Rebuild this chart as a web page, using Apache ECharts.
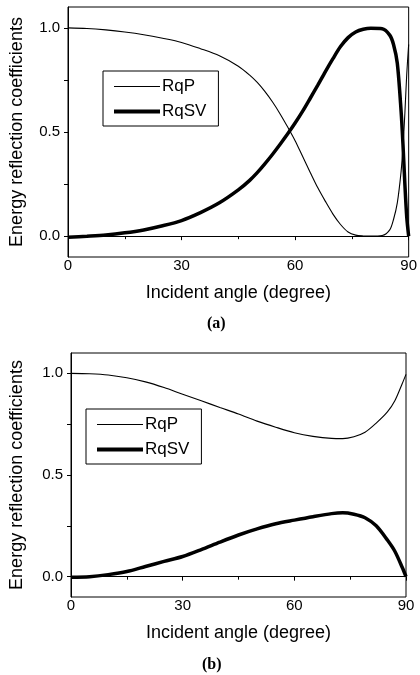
<!DOCTYPE html>
<html lang="en">
<head>
    <meta charset="UTF-8">
    <title>Energy reflection coefficients</title>
    <style>
        html, body { margin: 0; padding: 0; background: #fff; }
        #main { width: 420px; height: 675px; }
    </style>
</head>
<body>
    <div id="main"></div>
    <script src="https://cdn.jsdelivr.net/npm/echarts@6/dist/echarts.min.js"></script>
    <script>
        // panel (a)
        var anglesA = [0, 5, 10, 15, 20, 25, 30, 35, 40, 45, 48, 50, 52, 54, 56, 58, 60, 62, 64, 66, 68, 70, 72, 74, 76, 78, 80, 83, 85, 86, 87, 88, 88.5, 89, 89.5, 90];
        var rqpA = [1.0, 0.997, 0.99, 0.98, 0.967, 0.95, 0.93, 0.90, 0.866, 0.816, 0.773, 0.738, 0.695, 0.645, 0.588, 0.525, 0.458, 0.382, 0.306, 0.232, 0.167, 0.106, 0.056, 0.02, 0.005, 0.001, 0.0, 0.003, 0.03, 0.08, 0.16, 0.31, 0.43, 0.59, 0.78, 0.92];
        var rqsvA = [-0.005, 0.0, 0.006, 0.016, 0.03, 0.05, 0.075, 0.113, 0.16, 0.222, 0.268, 0.305, 0.347, 0.392, 0.44, 0.49, 0.543, 0.60, 0.662, 0.725, 0.79, 0.852, 0.91, 0.953, 0.98, 0.993, 0.998, 0.996, 0.965, 0.92, 0.83, 0.60, 0.44, 0.25, 0.09, 0.0];
        // panel (b)
        var anglesB = [0, 5, 10, 15, 20, 25, 30, 35, 40, 45, 50, 55, 60, 65, 70, 73, 76, 79, 82, 85, 87, 89, 90];
        var rqpB = [1.0, 0.998, 0.992, 0.978, 0.958, 0.93, 0.897, 0.865, 0.832, 0.80, 0.765, 0.735, 0.708, 0.69, 0.68, 0.679, 0.688, 0.71, 0.755, 0.81, 0.865, 0.95, 0.995];
        var rqsvB = [-0.003, 0.0, 0.01, 0.025, 0.05, 0.075, 0.099, 0.133, 0.17, 0.205, 0.235, 0.26, 0.278, 0.295, 0.31, 0.314, 0.307, 0.29, 0.25, 0.18, 0.125, 0.045, 0.0];

        var xTicks = [0, 30, 60, 90];
        var yLabels = [0, 0.5, 1.0];
        var yTicks = [0, 0.25, 0.5, 0.75, 1.0];

        var font = 'Liberation Sans, Arial, sans-serif';
        var thin = 1.1, thick = 3.5;

        function pairs(xs, ys) {
            return xs.map(function (x, i) { return [x, ys[i]]; });
        }

        function xAxisFor(idx, gap) {
            return {
                type: 'value', gridIndex: idx, min: xTicks[0], max: xTicks[xTicks.length - 1], interval: 30,
                name: 'Incident angle (degree)', nameLocation: 'middle', nameGap: gap,
                nameTextStyle: { fontFamily: font, fontSize: 18, color: '#000' },
                axisLine: { lineStyle: { color: '#000', width: 1 } },
                axisTick: { length: 4, lineStyle: { color: '#000' } },
                minorTick: { show: true, splitNumber: 2, length: 3, lineStyle: { color: '#000' } },
                axisLabel: { fontFamily: font, fontSize: 15, color: '#000', margin: 1 },
                splitLine: { show: false }
            };
        }

        function yAxisFor(idx, gap) {
            return {
                type: 'value', gridIndex: idx, min: -0.1, max: 1.1,
                name: 'Energy reflection coefficients', nameLocation: 'middle', nameGap: gap,
                nameTextStyle: { fontFamily: font, fontSize: 18, color: '#000' },
                axisLine: { lineStyle: { color: '#000', width: 1 } },
                axisTick: { length: 4, customValues: yTicks, lineStyle: { color: '#000' } },
                axisLabel: {
                    fontFamily: font, fontSize: 15, color: '#000', margin: 8,
                    customValues: yLabels,
                    formatter: function (v) { return v.toFixed(1); }
                },
                splitLine: { show: false }
            };
        }

        // line-only legend: hide the marker the line series puts in the middle
        function legendFor(left, top) {
            return {
                orient: 'vertical', left: left, top: top,
                data: [
                    { name: 'RqP', lineStyle: { width: thin } },
                    { name: 'RqSV', lineStyle: { width: thick + 0.5 } }
                ],
                itemWidth: 46, itemHeight: 14, itemGap: 8,
                padding: [7, 12, 6, 9],
                borderColor: '#000', borderWidth: 1, borderRadius: 0,
                selectedMode: false,
                itemStyle: { opacity: 0 },
                textStyle: { fontFamily: font, fontSize: 17, color: '#000', padding: [0, 0, 0, -3] }
            };
        }

        function lineSeries(name, idx, data, width) {
            return {
                name: name, type: 'line', xAxisIndex: idx, yAxisIndex: idx,
                data: data, showSymbol: false, symbol: 'none',
                smooth: 0.3,
                lineStyle: { color: '#000', width: width },
                itemStyle: { color: '#000' }
            };
        }

        var chart = echarts.init(document.getElementById('main'), null, { renderer: 'canvas' });
        chart.setOption({
            animation: false,
            backgroundColor: '#fff',
            title: [
                { text: '(a)', left: 207, top: 316, padding: 0,
                  textStyle: { fontFamily: 'Liberation Serif, serif', fontWeight: 'bold', fontSize: 16, color: '#000' } },
                { text: '(b)', left: 202, top: 657, padding: 0,
                  textStyle: { fontFamily: 'Liberation Serif, serif', fontWeight: 'bold', fontSize: 16, color: '#000' } }
            ],
            grid: [
                { left: 68, top: 7, width: 344, height: 250, show: true, borderColor: '#000', borderWidth: 1 },
                { left: 63, top: 353, width: 343, height: 244, show: true, borderColor: '#000', borderWidth: 1 }
            ],
            legend: [legendFor(103, 71), legendFor(86, 409)],
            xAxis: [xAxisFor(0, 27), xAxisFor(1, 27)],
            yAxis: [yAxisFor(0, 42), yAxisFor(1, 45)],
            series: [
                lineSeries('RqP', 0, pairs(anglesA, rqpA), thin),
                lineSeries('RqSV', 0, pairs(anglesA, rqsvA), thick),
                lineSeries('RqP', 1, pairs(anglesB, rqpB), thin),
                lineSeries('RqSV', 1, pairs(anglesB, rqsvB), thick)
            ]
        });
    </script>
</body>
</html>
